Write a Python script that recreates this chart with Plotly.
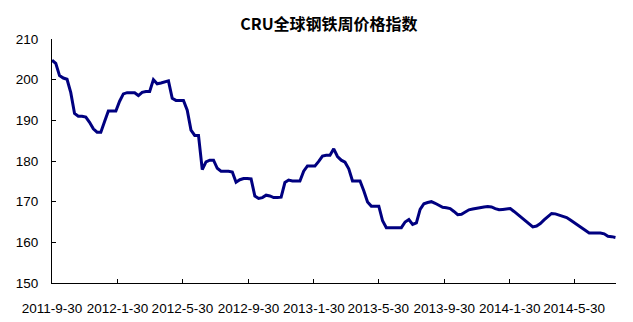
import pandas as pd
import plotly.graph_objects as go

title_text = "CRU全球钢铁周价格指数"
start_date = "2011-09-30"
index_values = [
    204.8, 204.0, 201.0, 200.4, 200.1, 196.8, 191.7, 191.0, 191.0, 190.8,
    189.5, 187.9, 187.1, 187.1, 189.7, 192.3, 192.3, 192.3, 194.7, 196.5,
    196.8, 196.8, 196.8, 196.1, 196.9, 197.1, 197.1, 200.0, 199.0, 199.2,
    199.5, 199.7, 195.4, 194.9, 194.9, 194.9, 192.5, 187.6, 186.3, 186.3,
    177.9, 179.8, 180.2, 180.2, 178.2, 177.5, 177.5, 177.5, 177.3, 174.8,
    175.4, 175.7, 175.7, 175.6, 171.4, 170.8, 171.0, 171.6, 171.4, 171.0,
    171.0, 171.1, 174.7, 175.3, 175.1, 175.1, 175.1, 177.5, 178.8, 178.8,
    178.8, 179.9, 181.2, 181.4, 181.4, 183.0, 181.1, 180.2, 179.7, 178.1,
    175.1, 175.1, 175.1, 172.7, 169.9, 168.9, 168.9, 168.9, 165.3, 163.6,
    163.6, 163.6, 163.5, 163.6, 165.0, 165.6, 164.4, 164.8, 168.1, 169.5,
    169.8, 170.0, 169.6, 169.0, 168.6, 168.5, 168.3, 167.6, 166.8, 166.9,
    167.5, 168.0, 168.2, 168.4, 168.5, 168.7, 168.8, 168.7, 168.3, 168.0,
    168.1, 168.2, 168.3, 167.6, 166.8, 166.0, 165.2, 164.5, 163.8, 164.0,
    164.6, 165.5, 166.4, 167.1, 167.0, 166.7, 166.4, 166.1, 165.5, 164.9,
    164.2, 163.6, 162.9, 162.3, 162.3, 162.3, 162.3, 162.1, 161.5, 161.4,
    161.2,
]
tick_dates = ["2011-09-30", "2012-01-30", "2012-05-30", "2012-09-30", "2013-01-30",
              "2013-05-30", "2013-09-30", "2014-01-30", "2014-05-30"]
tick_labels = ["2011-9-30", "2012-1-30", "2012-5-30", "2012-9-30", "2013-1-30",
               "2013-5-30", "2013-9-30", "2014-1-30", "2014-5-30"]
y_ticks = [150, 160, 170, 180, 190, 200, 210]

dates = pd.date_range(start_date, periods=len(index_values), freq="7D")

fig = go.Figure()
fig.add_trace(go.Scatter(
    x=dates, y=index_values, mode="lines",
    line=dict(color="#000080", width=3),
    hoverinfo="x+y", showlegend=False,
))

tick_font = dict(family="Liberation Sans, Arial, sans-serif", size=13.5, color="black")

fig.update_layout(
    width=633, height=322,
    margin=dict(l=52, r=17, t=39, b=39),
    paper_bgcolor="white", plot_bgcolor="white",
    title=dict(
        text="<b>" + title_text + "</b>",
        x=0.491, xref="paper", xanchor="center",
        y=1 - 24 / 322, yref="container", yanchor="middle",
        font=dict(family="Noto Sans CJK SC, sans-serif", size=16, color="black"),
    ),
    xaxis=dict(
        type="date", automargin=False,
        range=["2011-09-30", "2014-08-16"],
        tickvals=tick_dates, ticktext=tick_labels,
        showgrid=False, zeroline=False,
        showline=True, linecolor="black", linewidth=1,
        ticks="inside", ticklen=4, tickcolor="black", tickwidth=1,
        tickfont=tick_font, ticklabelstandoff=13,
    ),
    yaxis=dict(
        range=[150, 210], tickvals=y_ticks, automargin=False,
        showgrid=False, zeroline=False,
        showline=True, linecolor="black", linewidth=1,
        ticks="inside", ticklen=4, tickcolor="black", tickwidth=1,
        tickfont=tick_font, ticklabelstandoff=10,
    ),
)

fig.write_html("out.html")
